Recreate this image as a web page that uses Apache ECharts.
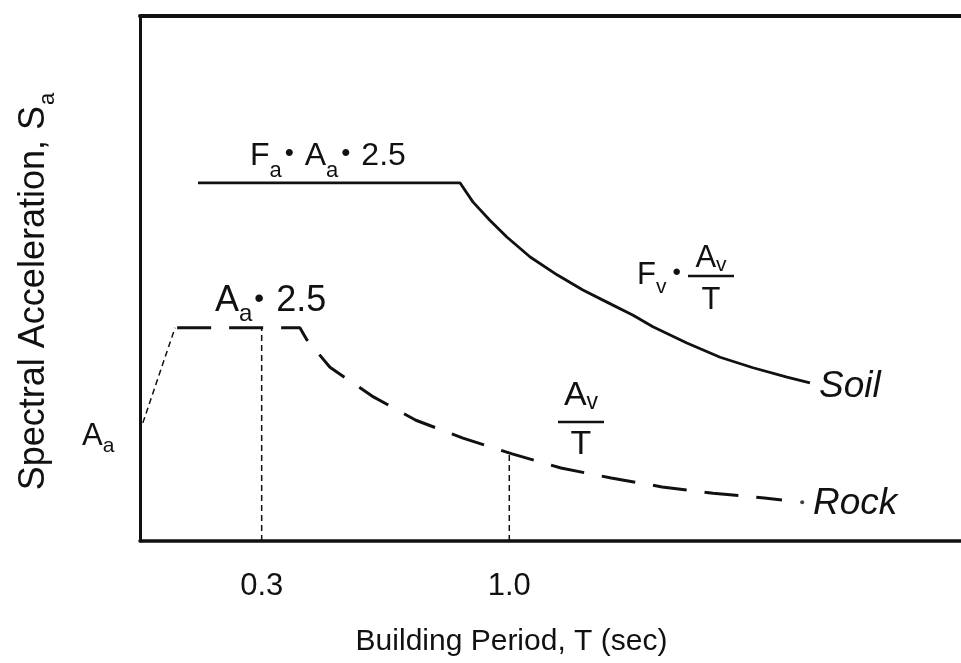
<!DOCTYPE html>
<html><head><meta charset="utf-8">
<script src="https://cdn.jsdelivr.net/npm/echarts@6/dist/echarts.min.js"></script>
<style>html,body{margin:0;padding:0;background:#fff}#c{width:961px;height:663px}</style>
</head><body><div id="c"></div>
<script>
const FONT = '"Liberation Sans", Arial, Helvetica, sans-serif';
const INK = '#111';
// Building period T (sec) and spectral acceleration (relative units)
const soilT   = [0.120, 0.861, 0.897, 0.945, 0.993, 1.059, 1.135, 1.208, 1.276, 1.350, 1.406, 1.502, 1.596, 1.689, 1.785, 1.850];
const soilSa  = [6.82, 6.82, 6.46, 6.11, 5.79, 5.41, 5.07, 4.78, 4.55, 4.30, 4.08, 3.77, 3.50, 3.30, 3.12, 3.01];
const rampT   = [-0.036, 0.055];
const rampSa  = [2.25, 4.06];
const rockT   = [0.061, 0.408, 0.428, 0.493, 0.612, 0.736, 0.869, 1.008, 1.146, 1.288, 1.432, 1.576, 1.721, 1.771];
const rockSa  = [4.06, 4.06, 3.83, 3.31, 2.76, 2.30, 1.96, 1.66, 1.39, 1.20, 1.03, 0.91, 0.82, 0.78];
const rockEndT  = [1.828];
const rockEndSa = [0.74];
const tickValues = [0.3, 1.0];
const tickTops   = [4.06, 1.67];
const xRange = [-0.044, 2.277];
const yRange = [0, 10];

const zip = (a, b) => a.map((v, i) => [v, b[i]]);

// rich label helper: parts = [['m','F'],['s','a'],['b','•'], ...]
function richText(x, baseY, parts, fs, o) {
  o = o || {};
  const italic = o.italic ? 'italic ' : '';
  const L = Math.round(fs * 1.1);
  const B = L / 2 + 0.33 * fs;             // baseline of main text inside box
  const sfs = o.sfs || Math.round(fs * 0.68);
  const d = o.d == null ? 8 : o.d;
  const subPad = Math.max(0, B + d - 0.33 * sfs - sfs / 2);
  const bfs = o.bfs || Math.round(fs * 0.8);
  const bPad = Math.max(0, B - 0.43 * fs - bfs / 2);
  const bg = o.bgap || [1, 1];
  const rich = {
    m: { font: italic + fs + 'px ' + FONT, lineHeight: L, verticalAlign: 'top', fill: INK },
    s: { font: sfs + 'px ' + FONT, lineHeight: sfs, padding: [subPad, 0, 0, 0], verticalAlign: 'top', fill: INK },
    b: { font: bfs + 'px ' + FONT, lineHeight: bfs, padding: [bPad, bg[1], 0, bg[0]], verticalAlign: 'top', fill: INK }
  };
  const text = parts.map(p => '{' + p[0] + '|' + p[1] + '}').join('');
  return {
    type: 'text', x: x, y: baseY - B, z: 10, silent: true,
    style: { text: text, rich: rich, align: o.align || 'left', verticalAlign: 'top', fill: INK }
  };
}
function rule(x1, x2, y, w) {
  return { type: 'line', z: 10, silent: true, shape: { x1: x1, y1: y, x2: x2, y2: y }, style: { stroke: INK, lineWidth: w || 2.5 } };
}

const chart = echarts.init(document.getElementById('c'), null, { renderer: 'canvas' });
const lineBase = { type: 'line', showSymbol: false, silent: true, animation: false, xAxisIndex: 0, yAxisIndex: 0 };

const series = [
  Object.assign({}, lineBase, { name: 'Soil', data: zip(soilT, soilSa), lineStyle: { color: INK, width: 2.8 } }),
  Object.assign({}, lineBase, { name: 'Ramp', data: zip(rampT, rampSa), lineStyle: { color: INK, width: 1.5, type: [6, 4] } }),
  Object.assign({}, lineBase, { name: 'Rock', data: zip(rockT, rockSa), lineStyle: { color: INK, width: 3, type: [34, 18], cap: 'butt' } }),
  { type: 'scatter', name: 'RockEnd', data: zip(rockEndT, rockEndSa), symbolSize: 4, itemStyle: { color: INK }, silent: true, animation: false }
];
tickValues.forEach((t, i) => {
  series.push(Object.assign({}, lineBase, { name: 'T=' + t, data: [[t, 0], [t, tickTops[i]]], lineStyle: { color: INK, width: 1.5, type: [6, 4] } }));
});

chart.setOption({
  backgroundColor: '#fff',
  animation: false,
  grid: { left: 140, right: 0, top: 16, bottom: 122, containLabel: false },
  xAxis: [{
    type: 'value', min: xRange[0], max: xRange[1], position: 'bottom',
    axisLine: { show: true, onZero: false, lineStyle: { color: INK, width: 3.5 } },
    axisTick: { show: false },
    splitLine: { show: false },
    axisLabel: { customValues: tickValues, formatter: v => v.toFixed(1), margin: 30, fontSize: 31, fontFamily: FONT, color: INK },
    name: 'Building Period, T (sec)', nameLocation: 'middle', nameGap: 86,
    nameTextStyle: { fontSize: 30, fontFamily: FONT, color: INK, padding: [0, 78, 0, 0] }
  }, {
    type: 'value', min: xRange[0], max: xRange[1], position: 'top',
    axisLine: { show: true, onZero: false, lineStyle: { color: INK, width: 4 } },
    axisTick: { show: false }, axisLabel: { show: false }, splitLine: { show: false }
  }],
  yAxis: [{
    type: 'value', min: yRange[0], max: yRange[1],
    axisLine: { show: true, onZero: false, lineStyle: { color: INK, width: 3 } },
    axisTick: { show: false }, axisLabel: { show: false }, splitLine: { show: false },
    name: '{m|Spectral Acceleration, S}{sub|a}', nameLocation: 'middle', nameGap: 84,
    nameTextStyle: { fontSize: 36, fontFamily: FONT, color: INK, padding: [0, 26, 0, 0],
      rich: {
        m: { fontSize: 36, fontFamily: FONT, color: INK, lineHeight: 40, verticalAlign: 'top' },
        sub: { fontSize: 22, fontFamily: FONT, color: INK, lineHeight: 22, padding: [21, 0, 0, 1], verticalAlign: 'top' }
      } }
  }],
  series: series,
  graphic: [
    richText(250, 168, [['m','F'],['s','a'],['b','•'],['m',' A'],['s','a'],['b','•'],['m',' 2.5']], 32, { d: 10, bfs: 26, bgap: [3, 2] }),
    richText(215, 315, [['m','A'],['s','a'],['b','•'],['m',' 2.5']], 36, { d: 7, bfs: 28, bgap: [2, 2] }),
    richText(637, 287, [['m','F'],['s','v'],['b','•']], 31, { d: 7, bfs: 24, bgap: [6, 0] }),
    rule(688, 734, 276, 2.5),
    richText(711, 270, [['m','A'],['s','v']], 31, { d: 2, align: 'center' }),
    richText(711, 312, [['m','T']], 31, { align: 'center' }),
    richText(581, 408, [['m','A'],['s','v']], 34, { d: 2, align: 'center' }),
    rule(558, 604, 422, 2.5),
    richText(581, 457, [['m','T']], 34, { align: 'center' }),
    richText(819, 401, [['m','Soil']], 37, { italic: true }),
    richText(813, 518, [['m','Rock']], 37, { italic: true }),
    richText(82, 448, [['m','A'],['s','a']], 31, { d: 5 })
  ]
});
</script>
</body></html>
